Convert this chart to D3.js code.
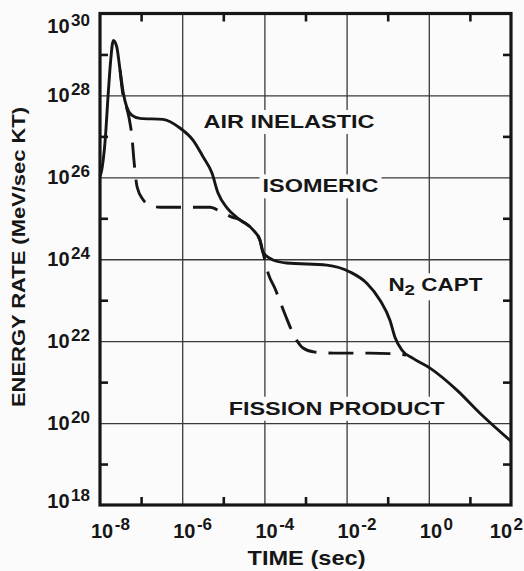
<!DOCTYPE html>
<html><head><meta charset="utf-8">
<script src="https://cdn.jsdelivr.net/npm/d3@7"></script>
<style>
html,body{margin:0;padding:0;background:#fbfbfb;}
svg{display:block;font-family:"Liberation Sans",Arial,sans-serif;font-weight:bold;}
</style></head>
<body>
<svg id="c" width="524" height="571"></svg>
<script>
// ---- data ----
const xTickExps = [-8, -6, -4, -2, 0, 2];
const yTickExps = [18, 20, 22, 24, 26, 28, 30];
const xMinorExps = [-7, -5, -3, -1, 1];
const yMinorExps = [19, 21, 23, 25, 27, 29];

// Solid curve (total energy rate)
const solidTime = [1.0e-8, 1.10e-8, 1.32e-8, 1.59e-8, 1.82e-8, 2.11e-8, 2.55e-8, 3.07e-8, 3.69e-8, 4.47e-8,
  5.9e-8, 9.4e-8, 3.4e-7, 8.8e-7, 1.83e-6, 3.2e-6, 5.3e-6, 7.4e-6, 1.23e-5, 2.55e-5,
  5.3e-5, 7.8e-5, 9.2e-5, 1.62e-4, 3.5e-4, 3.3e-3, 1.21e-2, 3.1e-2, 6.5e-2, 0.114,
  0.151, 0.223, 0.413, 1.07, 4.9, 17.6, 100];
const solidRate = [1.07e26, 1.5e26, 6.9e26, 1.15e28, 7.2e28, 2.2e29, 1.55e29, 4.2e28, 1.15e28, 5.2e27,
  3.3e27, 2.75e27, 2.6e27, 1.6e27, 8.1e26, 3.2e26, 1.27e26, 4.2e25, 1.8e25, 9.1e24,
  5.2e24, 2.9e24, 1.5e24, 9.6e23, 8.1e23, 7.2e23, 4.9e23, 2.6e23, 1.0e23, 3.2e22,
  1.23e22, 6.0e21, 3.8e21, 2.2e21, 6.3e20, 1.74e20, 3.6e19];

// Dashed curve
const dashedTime = [3.07e-8, 3.63e-8, 4.27e-8, 5.1e-8, 6.0e-8, 6.7e-8, 8.0e-8, 1.13e-7, 1.66e-7, 2.9e-7,
  4.8e-6, 8.3e-6, 1.62e-5, 2.55e-5, 5.3e-5, 7.8e-5, 9.2e-5, 1.23e-4, 1.82e-4, 3.2e-4,
  5.5e-4, 8.7e-4, 1.7e-3, 6.9e-3, 3.7e-2, 0.20, 0.28];
const dashedRate = [4.2e28, 1.02e28, 5.9e27, 2.8e27, 9.5e26, 2.6e26, 5.8e25, 2.8e25, 2.1e25, 1.86e25,
  1.86e25, 1.48e25, 1.07e25, 9.1e24, 5.2e24, 2.9e24, 1.5e24, 4.6e23, 1.9e23, 4.4e22,
  1.26e22, 6.8e21, 5.4e21, 5.1e21, 5.1e21, 4.8e21, 4.6e21];

const annotations = [
  {text: "AIR INELASTIC", t: 3.3e-6, e: 1.6e27, len: 171},
  {text: "ISOMERIC", t: 9.0e-5, e: 4.3e25, len: 116},
  {text: "FISSION PRODUCT", t: 1.35e-5, e: 1.6e20, len: 216}
];
const n2Label = {main: "N", sub: "2", rest: " CAPT", t: 0.104, e: 1.65e23, len: 94};

// ---- layout ----
const W = 524, H = 571;
const L = 100, R = 511, T = 13.5, B = 505;
const ink = "#161616";
const paper = "#fbfbfb";

const svg = d3.select("#c");
svg.append("rect").attr("width", W).attr("height", H).attr("fill", paper);

const x = d3.scaleLog().domain([1e-8, 1e2]).range([L, R]);
const y = d3.scaleLog().domain([1e18, 1e30]).range([B, T]);

// grid lines via axes
const gridX = svg.append("g").attr("transform", `translate(0,${B})`)
  .call(d3.axisBottom(x).tickValues([-6, -4, -2, 0].map(e => Math.pow(10, e))).tickSize(-(B - T)).tickFormat(""));
const gridY = svg.append("g").attr("transform", `translate(${L},0)`)
  .call(d3.axisLeft(y).tickValues([20, 22, 24, 26, 28].map(e => Math.pow(10, e))).tickSize(-(R - L)).tickFormat(""));
[gridX, gridY].forEach(g => {
  g.select(".domain").remove();
  g.selectAll("line").attr("stroke", "#3a3a3a").attr("stroke-width", 1.3);
});

// inward minor ticks on all four sides
const xm = xMinorExps.map(e => Math.pow(10, e));
const ym = yMinorExps.map(e => Math.pow(10, e));
const tickAxes = [
  svg.append("g").attr("transform", `translate(0,${B})`).call(d3.axisBottom(x).tickValues(xm).tickSize(-8).tickFormat("")),
  svg.append("g").attr("transform", `translate(0,${T})`).call(d3.axisTop(x).tickValues(xm).tickSize(-8).tickFormat("")),
  svg.append("g").attr("transform", `translate(${L},0)`).call(d3.axisLeft(y).tickValues(ym).tickSize(-8).tickFormat("")),
  svg.append("g").attr("transform", `translate(${R},0)`).call(d3.axisRight(y).tickValues(ym).tickSize(-8).tickFormat(""))
];
tickAxes.forEach(g => {
  g.select(".domain").remove();
  g.selectAll("line").attr("stroke", ink).attr("stroke-width", 2.6);
});

// annotation labels with paper knockout
function knockout(parent, textSel) {
  const bb = textSel.node().getBBox();
  parent.insert("rect", () => textSel.node())
    .attr("x", bb.x - 3).attr("y", bb.y - 2).attr("width", bb.width + 6).attr("height", bb.height + 4)
    .attr("fill", paper);
}
annotations.forEach(a => {
  const t = svg.append("text").attr("x", x(a.t)).attr("y", y(a.e))
    .attr("font-size", 18).attr("fill", ink)
    .attr("textLength", a.len).attr("lengthAdjust", "spacingAndGlyphs")
    .text(a.text);
  knockout(svg, t);
});
{
  const g = svg.append("g");
  const t = g.append("text").attr("x", 0).attr("y", 0).attr("font-size", 18).attr("fill", ink);
  t.append("tspan").text(n2Label.main);
  t.append("tspan").attr("font-size", 15).attr("dy", 4).text(n2Label.sub);
  t.append("tspan").attr("dy", -4).text(n2Label.rest);
  const w = t.node().getBBox().width;
  knockout(g, t);
  g.attr("transform", `translate(${x(n2Label.t)},${y(n2Label.e)}) scale(${n2Label.len / w},1)`);
}

// border
svg.append("rect").attr("x", L).attr("y", T).attr("width", R - L).attr("height", B - T)
  .attr("fill", "none").attr("stroke", ink).attr("stroke-width", 3.2);

// curves
const line = d3.line().x(d => x(d[0])).y(d => y(d[1])).curve(d3.curveMonotoneX);
const solid = solidTime.map((t, i) => [t, solidRate[i]]);
const dashed = dashedTime.map((t, i) => [t, dashedRate[i]]);
svg.append("path").datum(dashed).attr("d", line).attr("fill", "none")
  .attr("stroke", ink).attr("stroke-width", 2.9).attr("stroke-dasharray", "25,12");
svg.append("path").datum(solid).attr("d", line).attr("fill", "none")
  .attr("stroke", ink).attr("stroke-width", 2.9).attr("stroke-linejoin", "round");

// y tick labels
yTickExps.forEach(e => {
  const yy = Math.min(Math.max(y(Math.pow(10, e)) + 7, 33), 508);
  const t = svg.append("text").attr("x", 90).attr("y", yy).attr("text-anchor", "end")
    .attr("font-size", 20).attr("fill", ink);
  t.append("tspan").text("10");
  t.append("tspan").attr("font-size", 17).attr("dx", 1.5).attr("dy", -7).text(String(e));
});

// x tick labels
xTickExps.forEach(e => {
  const t = svg.append("text").attr("y", 538).attr("font-size", 20).attr("fill", ink);
  t.append("tspan").text("10");
  t.append("tspan").attr("font-size", 17).attr("dx", 1.5).attr("dy", -8).text(String(e));
  const w = t.node().getBBox().width;
  const xs = Math.min(x(Math.pow(10, e)) - 9, W - 1 - w);
  t.attr("x", xs);
});

// axis titles
svg.append("text").attr("x", (L + R) / 2 + 1).attr("y", 565).attr("text-anchor", "middle")
  .attr("font-size", 21).attr("fill", ink)
  .attr("textLength", 118).attr("lengthAdjust", "spacingAndGlyphs").text("TIME (sec)");
svg.append("text").attr("transform", "translate(25,257) rotate(-90)").attr("text-anchor", "middle")
  .attr("font-size", 18).attr("fill", ink)
  .attr("textLength", 300).attr("lengthAdjust", "spacingAndGlyphs").text("ENERGY RATE (MeV/sec KT)");
</script>
</body></html>
